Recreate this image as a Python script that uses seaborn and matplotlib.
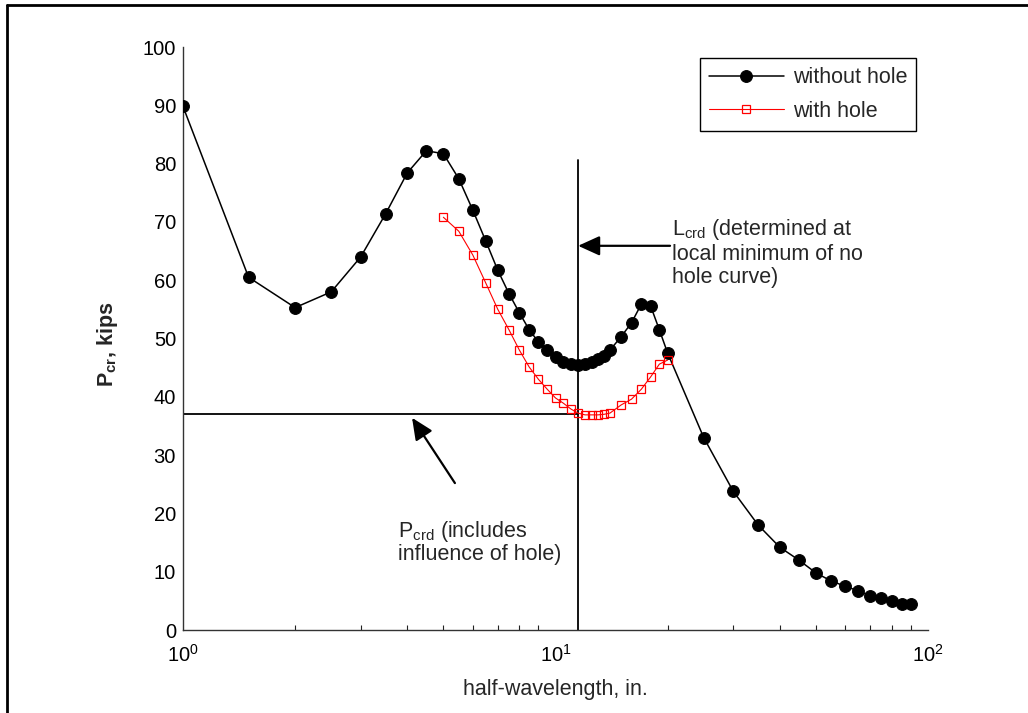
import numpy as np
import pandas as pd
import matplotlib
matplotlib.use("Agg")
import matplotlib.pyplot as plt
import seaborn as sns
from matplotlib.lines import Line2D

# ---- data ----
hw_nohole = [1, 1.5, 2, 2.5, 3, 3.5, 4, 4.5, 5, 5.5, 6, 6.5, 7, 7.5, 8, 8.5, 9, 9.5,
             10, 10.5, 11, 11.5, 12, 12.5, 13, 13.5, 14, 15, 16, 17, 18, 19, 20,
             25, 30, 35, 40, 45, 50, 55, 60, 65, 70, 75, 80, 85, 90]
p_nohole = [89.8, 60.5, 55.3, 58.0, 64.0, 71.4, 78.4, 82.2, 81.7, 77.4, 72.0, 66.7,
            61.7, 57.7, 54.4, 51.5, 49.4, 48.0, 46.9, 46.0, 45.6, 45.5, 45.6, 45.9,
            46.5, 47.0, 48.0, 50.3, 52.7, 55.9, 55.6, 51.5, 47.5, 33.0, 23.8, 18.0,
            14.2, 12.0, 9.8, 8.4, 7.5, 6.7, 5.8, 5.5, 5.0, 4.5, 4.5]
hw_hole = [5, 5.5, 6, 6.5, 7, 7.5, 8, 8.5, 9, 9.5, 10, 10.5, 11, 11.5, 12, 12.5,
           13, 13.5, 14, 15, 16, 17, 18, 19, 20]
p_hole = [70.8, 68.4, 64.3, 59.5, 55.0, 51.5, 48.0, 45.1, 43.0, 41.3, 39.8, 38.9,
          37.9, 37.2, 36.9, 36.9, 36.9, 37.0, 37.2, 38.6, 39.6, 41.3, 43.4, 45.6, 46.3]
series_labels = ["without hole", "with hole"]
L_crd = 11.5
P_crd = 37.0
y_ticks = [0, 10, 20, 30, 40, 50, 60, 70, 80, 90, 100]

sns.set_theme(style="white")
plt.rcParams["font.family"] = ["Liberation Sans", "DejaVu Sans"]
plt.rcParams["mathtext.fontset"] = "custom"
plt.rcParams["mathtext.rm"] = "Liberation Sans"
plt.rcParams["mathtext.it"] = "Liberation Sans:italic"
plt.rcParams["mathtext.bf"] = "Liberation Sans:bold"
plt.rcParams["mathtext.default"] = "regular"

TXT = 15.5
TICK = 14.5

fig = plt.figure(figsize=(10.28, 7.13), dpi=100)
ax = fig.add_axes([183 / 1028, 1 - 630 / 713, 745 / 1028, 583 / 713])

df1 = pd.DataFrame({"x": hw_nohole, "y": p_nohole})
df2 = pd.DataFrame({"x": hw_hole, "y": p_hole})

sns.lineplot(data=df1, x="x", y="y", ax=ax, color="black", lw=1.1, marker="o",
             markersize=8.5, markeredgecolor="black", markerfacecolor="black",
             estimator=None, sort=False, label=series_labels[0], zorder=3)
sns.lineplot(data=df2, x="x", y="y", ax=ax, color="red", lw=0.8, marker="s",
             markersize=6, markeredgecolor="red", markerfacecolor="none",
             markeredgewidth=0.9, estimator=None, sort=False,
             label=series_labels[1], zorder=4)

# reference lines
ax.plot([L_crd, L_crd], [0, 80.6], color="black", lw=1.3, zorder=2)
ax.plot([1, L_crd], [P_crd, P_crd], color="black", lw=1.3, zorder=2)

ax.set_xscale("log")
ax.set_xlim(1, 100)
ax.set_ylim(0, 100)
ax.set_yticks(y_ticks)
ax.tick_params(axis="both", which="both", direction="in", labelsize=TICK,
               colors="#222222", labelcolor="black")
ax.tick_params(axis="both", which="major", length=5, width=0.8)
ax.tick_params(axis="x", which="minor", length=3.5, width=0.8, bottom=True)
ax.tick_params(axis="x", which="major", pad=10)
ax.tick_params(axis="y", which="major", pad=5)
for s in ["top", "right"]:
    ax.spines[s].set_visible(False)
for s in ["left", "bottom"]:
    ax.spines[s].set_color("#333333")
    ax.spines[s].set_linewidth(1.0)

ax.set_xlabel("half-wavelength, in.", fontsize=TXT, va="center")
ax.xaxis.set_label_coords(0.5, (630 - 689) / 583)
ax.set_ylabel("P$_{cr}$, kips", fontsize=TXT, fontweight="bold", va="center")
ax.yaxis.set_label_coords((108 - 183) / 745, 0.49)

# annotations
ax.annotate("", xy=(L_crd, 65.9), xytext=(20.3, 65.9),
            arrowprops=dict(arrowstyle="-|>,head_length=1.1,head_width=0.5",
                            color="black", lw=1.6, shrinkA=0, shrinkB=0))
ax.text(20.6, 64.8, "L$_{crd}$ (determined at\nlocal minimum of no\nhole curve)",
        fontsize=TXT, va="center", ha="left", linespacing=1.12)
ax.annotate("", xy=(4.12, 36.4), xytext=(5.37, 25.2),
            arrowprops=dict(arrowstyle="-|>,head_length=1.1,head_width=0.5",
                            color="black", lw=1.6, shrinkA=0, shrinkB=0))
ax.text(3.78, 15.1, "P$_{crd}$ (includes\ninfluence of hole)",
        fontsize=TXT, va="center", ha="left", linespacing=0.95)

leg = ax.legend(loc="upper right", bbox_to_anchor=(0.984, 0.981), borderaxespad=0,
                fontsize=TXT, handlelength=3.5, labelspacing=0.58, frameon=True,
                fancybox=False, framealpha=1, edgecolor="black", borderpad=0.42,
                handletextpad=0.4)
leg.get_frame().set_linewidth(1.0)

# figure border (left and top)
fig.add_artist(Line2D([6.5 / 1028, 6.5 / 1028], [0, 1 - 5 / 713], transform=fig.transFigure,
                      color="black", lw=2))
fig.add_artist(Line2D([6.5 / 1028, 1], [1 - 5 / 713, 1 - 5 / 713], transform=fig.transFigure,
                      color="black", lw=2))

fig.savefig("out.png", dpi=100)
